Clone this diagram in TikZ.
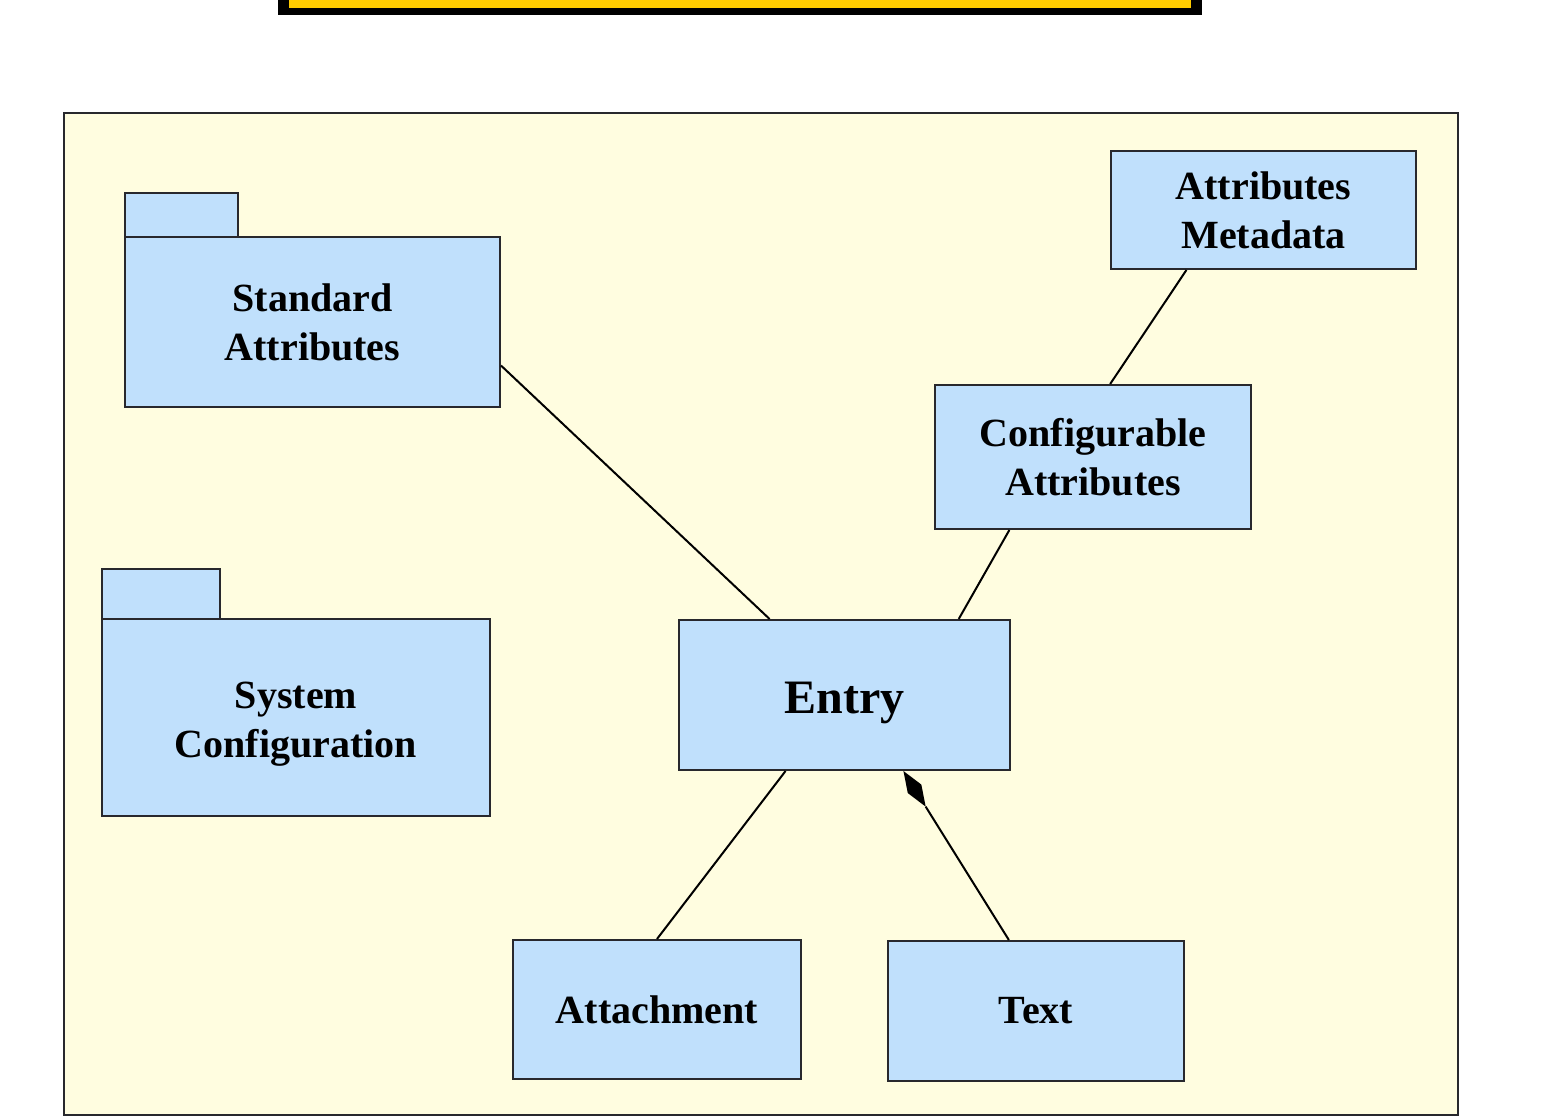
\documentclass[tikz,border=0pt]{standalone}
\usepackage{fontspec}
\setmainfont{Liberation Serif}
\usetikzlibrary{calc}
\definecolor{boxblue}{RGB}{192,224,252}
\definecolor{bgyellow}{RGB}{255,253,224}
\definecolor{banneryellow}{RGB}{255,204,0}
\definecolor{edgegray}{RGB}{40,40,45}
\tikzset{
  umlbox/.style={draw=edgegray, line width=2pt, fill=boxblue, inner sep=0pt, align=center,
    font=\fontsize{40}{49}\selectfont\bfseries},
  conn/.style={draw=black, line width=2pt},
}
\begin{document}
\begin{tikzpicture}[x=1pt,y=-1pt]
\useasboundingbox (0,0) rectangle (1543,1117);
% banner
\fill[black] (278,-10) rectangle (1202,15);
\fill[banneryellow] (289,-10) rectangle (1191,8);
% frame
\node[draw=edgegray, line width=2pt, fill=bgyellow, minimum width=1394pt, minimum height=1002pt, inner sep=0pt] (frame) at (761,614) {};
% packages
\node[umlbox, minimum width=113pt, minimum height=44pt] (satab) at (181.5,215) {};
\node[umlbox, minimum width=375pt, minimum height=170pt] (sa) at (312.5,322) {Standard\\Attributes};
\node[umlbox, minimum width=118pt, minimum height=50pt] (sctab) at (161,594) {};
\node[umlbox, minimum width=388pt, minimum height=197pt,
  label={[inner sep=0pt, align=center, font=\fontsize{40}{49}\selectfont\bfseries, yshift=-7pt]center:System\\Configuration}] (sc) at (296,717.5) {};
% classes
\node[umlbox, minimum width=305pt, minimum height=118pt] (am) at (1263.5,210) {Attributes\\Metadata};
\node[umlbox, minimum width=316pt, minimum height=144pt] (cf) at (1093,457) {Configurable\\Attributes};
\node[umlbox, minimum width=331pt, minimum height=150pt, text height=46pt, text depth=10pt, font=\fontsize{48}{56}\selectfont\bfseries] (en) at (844.5,695) {Entry};
\node[umlbox, minimum width=288pt, minimum height=139pt] (at) at (657,1009.5) {Attachment};
\node[umlbox, minimum width=296pt, minimum height=140pt] (tx) at (1036,1011) {Text};
% connectors
\draw[conn] ($(sa.north east)!0.753!(sa.south east)$) -- ($(en.north west)!0.275!(en.north east)$);
\draw[conn] ($(am.south west)!0.249!(am.south east)$) -- ($(cf.north west)!0.554!(cf.north east)$);
\draw[conn] ($(cf.south west)!0.237!(cf.south east)$) -- ($(en.north west)!0.843!(en.north east)$);
\draw[conn] ($(en.south west)!0.323!(en.south east)$) -- ($(at.north west)!0.5!(at.north east)$);
% composition
\coordinate (dtip) at ($(en.south west)!0.677!(en.south east)$);
\coordinate (tend) at ($(tx.north west)!0.409!(tx.north east)$);
\coordinate (dmid) at ($(dtip)!21pt!(tend)$);
\coordinate (dback) at ($(dtip)!42pt!(tend)$);
\draw[conn] (tend) -- (dback);
\fill[black] (dtip) -- ($(dmid)!8pt!90:(dtip)$) -- (dback) -- ($(dmid)!8pt!-90:(dtip)$) -- cycle;
\end{tikzpicture}
\end{document}
